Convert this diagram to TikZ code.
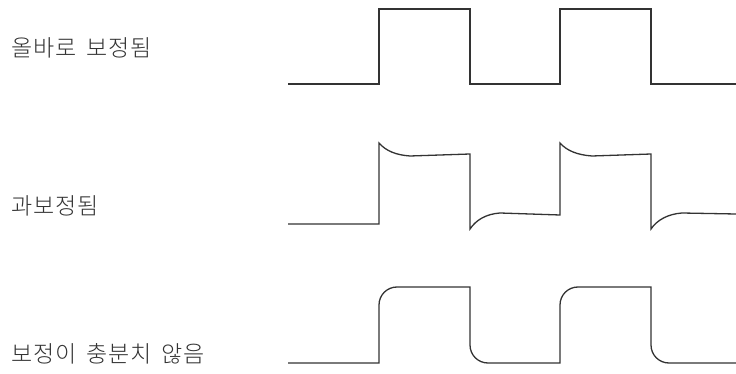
\documentclass[tikz,border=0pt]{standalone}
\usepackage{fontspec}
\newfontfamily\kr[LetterSpace=4,WordSpace=1.6]{Noto Sans CJK KR Light}
\definecolor{ink}{HTML}{333333}
\begin{document}
\begin{tikzpicture}[x=1pt,y=-1pt,
  wave/.style={draw=ink,line width=1.3pt,line join=miter},
  lbl/.style={anchor=west,inner sep=0pt,text=ink,font=\kr\fontsize{23}{25}\selectfont}]
\useasboundingbox (0,0) rectangle (736,374);
\fill[white] (0,0) rectangle (736,374);
% labels
\node[lbl] (l1) at (11,48) {올바로 보정됨};
\node[lbl] (l2) at (11,206) {과보정됨};
\node[lbl] (l3) at (11,354) {보정이 충분치 않음};
% correctly compensated
\draw[wave] (288,84) -- (379,84) -- (379,9) -- (470,9) -- (470,84) -- (560,84) -- (560,9) -- (651,9) -- (651,84) -- (736,84);
% over-compensated
\draw[wave] (288,224) -- (379,224) -- (379,143)
  .. controls (386,151) and (396,155) .. (410,156) -- (470,154) -- (470,229)
  .. controls (476,220) and (486,214) .. (500,213) -- (560,215) -- (560,143)
  .. controls (567,151) and (578,155) .. (592,156) -- (651,154) -- (651,229)
  .. controls (657,220) and (668,214) .. (682,213) -- (736,214);
% under-compensated
\draw[wave] (288,363) -- (379,363) -- (379,305)
  .. controls (379,295) and (387,287) .. (397,287) -- (470,287) -- (470,345)
  .. controls (470,355) and (478,363) .. (488,363) -- (560,363) -- (560,305)
  .. controls (560,295) and (568,287) .. (578,287) -- (651,287) -- (651,345)
  .. controls (651,355) and (659,363) .. (669,363) -- (736,363);
\end{tikzpicture}
\end{document}
